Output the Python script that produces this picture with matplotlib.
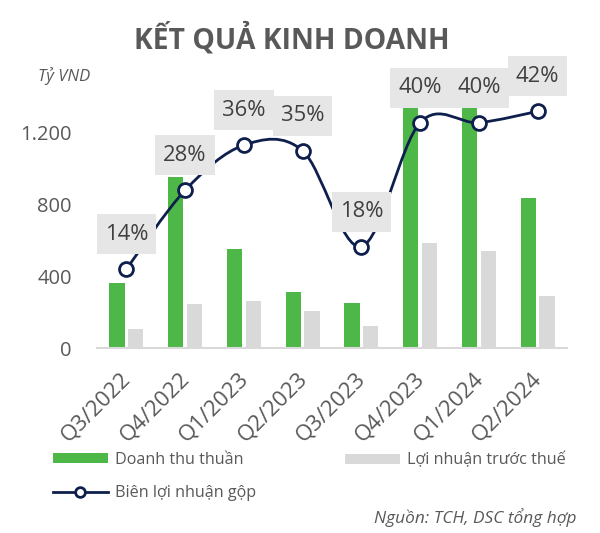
import numpy as np
import matplotlib
matplotlib.use("Agg")
import matplotlib.pyplot as plt
from matplotlib.path import Path
from matplotlib.lines import Line2D
from matplotlib.patches import Patch, PathPatch
from matplotlib.transforms import ScaledTranslation

# ---- data ----
quarters = ["Q3/2022", "Q4/2022", "Q1/2023", "Q2/2023", "Q3/2023", "Q4/2023", "Q1/2024", "Q2/2024"]
revenue = [361, 950, 550, 311, 250, 1400, 1360, 833]          # Doanh thu thuần (tỷ VND)
pretax_profit = [106, 244, 261, 206, 122, 583, 539, 289]      # Lợi nhuận trước thuế
gross_margin = [14, 28, 36, 35, 18, 40, 40, 42]               # Biên lợi nhuận gộp (%)
y_ticks = [0, 400, 800, 1200]
y_tick_labels = ["0", "400", "800", "1.200"]

GREEN = "#4DB848"
GRAY = "#D9D9D9"
NAVY = "#0E1F4D"
TXT = "#595959"
BOXC = "#E6E6E6"
FONT = ["Open Sans", "DejaVu Sans"]
plt.rcParams["font.family"] = FONT

W, H = 600, 533
fig = plt.figure(figsize=(W / 100, H / 100), dpi=100)
ax = fig.add_axes([97 / W, (H - 348) / H, (567 - 97) / W, 288 / H])
ax2 = ax.twinx()

x = np.arange(len(quarters))
bw = 0.26
off = 0.16
ax.bar(x - off, revenue, bw, color=GREEN, zorder=2)
ax.bar(x + off, pretax_profit, bw, color=GRAY, zorder=2)
ax.set_xlim(-0.5, len(quarters) - 0.5)
ax.set_ylim(0, 1600)
ax.set_yticks(y_ticks)
ax.set_yticklabels(y_tick_labels)
ax.tick_params(axis="y", length=0, pad=18, labelsize=14.5, labelcolor=TXT)
ax.set_xticks(x)
ax.set_xticklabels(quarters, rotation=45, ha="right", rotation_mode="anchor", va="baseline")
ax.tick_params(axis="x", length=0, pad=23, labelsize=16, labelcolor=TXT)
for lab in ax.get_xticklabels():
    lab.set_transform(lab.get_transform() + ScaledTranslation(5 / 100, 0, fig.dpi_scale_trans))
for s in ["top", "right", "left"]:
    ax.spines[s].set_visible(False)
ax.spines["bottom"].set_color(GRAY)
ax.spines["bottom"].set_linewidth(1.5)

# secondary axis for margin
ax2.set_ylim(0, 1600 / 31.3)
ax2.axis("off")

# smoothed (Bezier, Catmull-Rom like Excel) line through the margin points
xs = x.astype(float)
ys = np.array(gross_margin, dtype=float)
verts = [(xs[0], ys[0])]
codes = [Path.MOVETO]
n = len(xs)
for i in range(n - 1):
    p0 = np.array([xs[max(i - 1, 0)], ys[max(i - 1, 0)]])
    p1 = np.array([xs[i], ys[i]])
    p2 = np.array([xs[i + 1], ys[i + 1]])
    p3 = np.array([xs[min(i + 2, n - 1)], ys[min(i + 2, n - 1)]])
    c1 = p1 + (p2 - p0) / 6
    c2 = p2 - (p3 - p1) / 6
    verts += [tuple(c1), tuple(c2), tuple(p2)]
    codes += [Path.CURVE4] * 3
ax2.add_patch(PathPatch(Path(verts, codes), facecolor="none", edgecolor=NAVY, lw=2.0, zorder=3))
ax2.plot(xs, ys, linestyle="none", marker="o", ms=10, mfc="white", mec=NAVY, mew=2.0, zorder=4)


def label_box(x0, y0, width, height, mutation_size):
    # fixed-size box (about 60 x 40 px) centred on the text
    cx, cy = x0 + width / 2, y0 + height / 2
    hw, hh = 1.36 * mutation_size, 0.91 * mutation_size
    a0, b0, a1, b1 = cx - hw, cy - hh, cx + hw, cy + hh
    return Path([(a0, b0), (a1, b0), (a1, b1), (a0, b1), (a0, b0)],
                [Path.MOVETO, Path.LINETO, Path.LINETO, Path.LINETO, Path.CLOSEPOLY])


for xi, yi in zip(xs, ys):
    ax2.annotate(f"{yi:.0f}%", (xi, yi), xytext=(0, 25.2), textcoords="offset points",
                 ha="center", va="center", fontsize=15.8, color="#404040", zorder=6,
                 bbox=dict(boxstyle=label_box, facecolor=BOXC, edgecolor="none"))

# titles / notes
fig.text(292 / W, 1 - 39 / H, "KẾT QUẢ KINH DOANH", ha="center", va="center",
         fontsize=20.3, fontweight="bold", color=TXT)
fig.text(64 / W, 1 - 76 / H, "Tỷ VND", ha="center", va="center", fontsize=12, style="italic", color=TXT)
fig.text(577 / W, 1 - 518 / H, "Nguồn: TCH, DSC tổng hợp", ha="right", va="center",
         fontsize=12.4, style="italic", color=TXT)

# legend
h_rev = Patch(facecolor=GREEN, edgecolor="none")
h_pro = Patch(facecolor=GRAY, edgecolor="none")
h_gm = Line2D([], [], color=NAVY, lw=2.0, marker="o", ms=7, mfc="white", mec=NAVY, mew=2.0)
lkw = dict(frameon=False, fontsize=11.6, handlelength=3.4, handleheight=0.6, handletextpad=0.45,
           labelspacing=1.05, borderpad=0, borderaxespad=0, labelcolor=TXT)
leg1 = fig.legend([h_rev, h_gm], ["Doanh thu thuần", "Biên lợi nhuận gộp"], loc="upper left",
                  bbox_to_anchor=(53 / W, 1 - 452 / H), **lkw)
leg2 = fig.legend([h_pro], ["Lợi nhuận trước thuế"], loc="upper left",
                  bbox_to_anchor=(345 / W, 1 - 452 / H), **lkw)

fig.savefig("out.png", dpi=100)
